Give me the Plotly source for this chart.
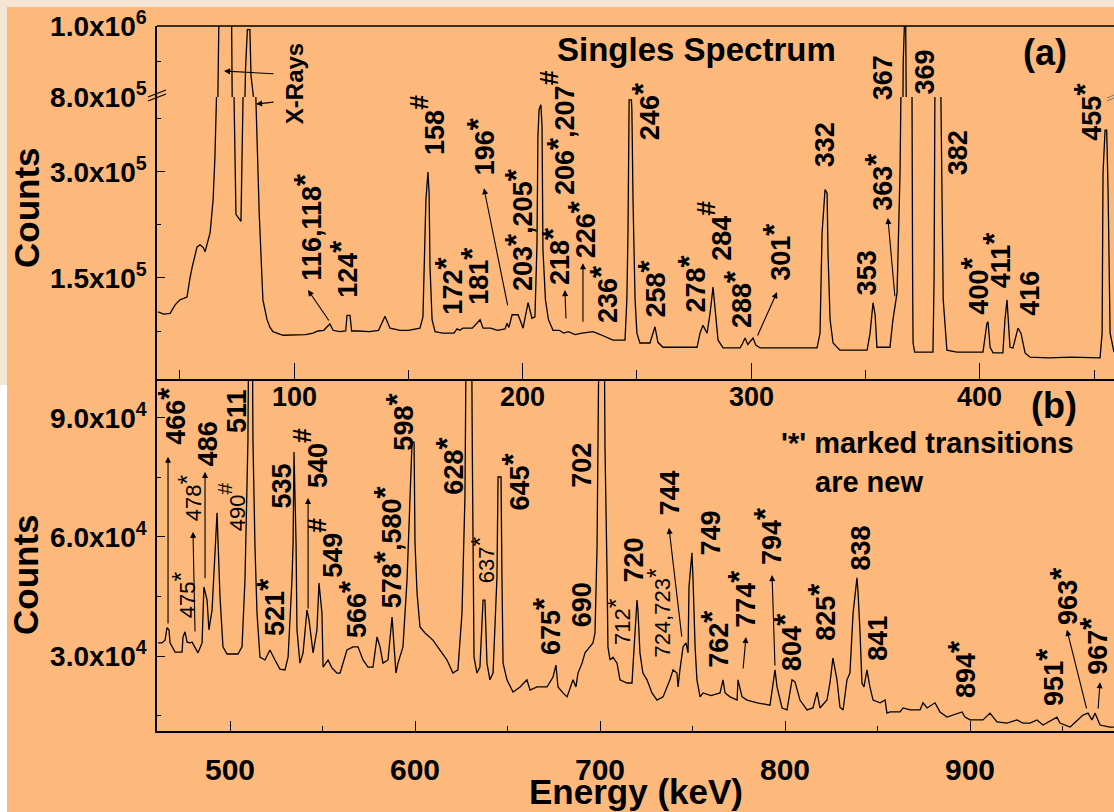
import re
import plotly.graph_objects as go

W, H = 1114, 812
BG = "#FDB97C"
FONT = "Liberation Sans, Arial, Helvetica, sans-serif"

# ---------------- data : panel (a) singles spectrum 40-460 keV ----------------
energy_a = [40.5, 43.0, 45.8, 48.0, 50.1, 53.2, 54.5, 55.5, 57.6, 58.9, 60.3, 61.1, 63.3, 64.6, 65.4, 66.0,
            66.8, 67.5, 72.5, 73.3, 74.6, 76.8, 77.6, 78.8, 79.6, 80.7, 81.2, 82.0, 84.0, 84.8, 86.4, 88.2,
            89.5, 90.8, 95.2, 100, 105, 108.3, 110.5, 113, 115.7, 117.1, 120, 122.6, 123.2, 124.5, 125.2,
            128, 133, 137, 139.8, 142, 146.4, 150, 155.1, 156.4, 157.7, 158.6, 159.1, 159.5, 160.4, 161.7,
            165, 170, 171.3, 172.5, 173.9, 178, 181.4, 182.7, 186, 189, 192.3, 193.2, 194.0, 195.4, 198.0,
            199.2, 200.2, 202.4, 203.5, 204.1, 205.4, 206.3, 206.7, 207.2, 208.0, 208.5, 208.9, 210.0,
            211.3, 213.3, 216, 218, 220, 223, 226, 230.8, 234, 239.5, 244.8, 245.6, 246.1, 246.6, 247.6,
            247.8, 248.3, 249.2, 250.0, 251.3, 255.7, 257.9, 259.2, 261.4, 270, 276.3, 277.6, 278.9, 280.7,
            282.0, 283.3, 284.6, 285.5, 287.7, 295.1, 296.0, 297.3, 298.5, 300.8, 302.0, 303.9, 310, 320,
            328.8, 330.1, 331.0, 332.3, 333.2, 333.6, 334.5, 335.8, 338.8, 345, 350.7, 352.0, 353.3, 354.2,
            355.0, 357.7, 360.7, 362.0, 363.8, 365.1, 366.0, 366.5, 367.0, 367.6, 367.9, 369.0, 370.3,
            370.6, 370.8, 371.5, 379.5, 380.0, 380.4, 381.0, 382.6, 383.0, 383.5, 384.0, 385.6, 390, 395,
            401.4, 403.1, 403.6, 404.5, 405.8, 410.1, 411.0, 411.9, 412.3, 413.2, 414.5, 416.7, 418.0,
            419.8, 422.0, 430, 440, 450, 452.6, 453.5, 453.9, 454.8, 455.5, 456.1, 457.0, 458.7]
counts_a = [102000, 99000, 100000, 112000, 119000, 123000, 150000, 166000, 194000, 197000, 193000, 187000,
            214000, 260000, 320000, 450000, 860000, 1200000, 1200000, 500000, 240000, 230000, 500000,
            880000, 990000, 990000, 860000, 550000, 300000, 240000, 119000, 91000, 80000, 74000, 69000,
            70000, 70000, 72000, 75000, 76000, 85000, 76000, 74000, 75000, 97000, 97000, 75000, 75000,
            74000, 76000, 96000, 79000, 76000, 76000, 79000, 95000, 260000, 300000, 270000, 166000, 91000,
            74000, 72000, 72000, 78000, 76000, 79000, 79000, 91000, 79000, 79000, 76000, 78000, 86000,
            80000, 98000, 98000, 88000, 79000, 115000, 100000, 93000, 95000, 200000, 350000, 388000,
            395000, 364000, 190000, 119000, 91000, 76000, 76000, 72000, 74000, 70000, 72000, 74000, 70000,
            62000, 62000, 119000, 214000, 402000, 402000, 388000, 260000, 119000, 72000, 58000, 58000,
            81000, 59000, 52000, 52000, 52000, 72000, 83000, 72000, 100000, 137000, 93000, 62000, 51000,
            51000, 56000, 65000, 56000, 65000, 55000, 51000, 51000, 51000, 51000, 72000, 214000, 275000,
            270000, 185000, 91000, 58000, 48000, 48000, 48000, 72000, 115000, 98000, 52000, 52000, 52000,
            91000, 129000, 299000, 450000, 900000, 1000000, 1000000, 700000, 700000, 450000, 150000,
            58000, 45000, 45000, 150000, 450000, 650000, 650000, 400000, 260000, 119000, 48000, 45000,
            45000, 45000, 86000, 88000, 52000, 44000, 44000, 91000, 119000, 98000, 52000, 51000, 79000,
            72000, 44000, 38000, 37000, 38000, 37000, 37000, 72000, 299000, 359000, 359000, 275000, 72000,
            45000]

# ---------------- data : panel (b) 460-980 keV ----------------
energy_b = [461.1, 463.2, 464.9, 465.9, 467.0, 467.6, 470.3, 474.1, 474.6, 475.7, 476.8, 478.4, 479.5,
            481.1, 482.7, 484.9, 485.9, 487.6, 488.6, 490.3, 491.9, 493.0, 493.5, 494.6, 496.2, 498.4,
            504.3, 506.5, 508.1, 509.2, 509.7, 510.2, 512.0, 512.4, 513.5, 514.6, 516.2, 518.9, 521.6,
            524.3, 527.0, 529.7, 531.4, 533.5, 534.1, 534.6, 535.7, 536.2, 537.8, 539.5, 541.6, 542.7,
            544.3, 544.9, 547.0, 548.1, 549.7, 550.3, 553.0, 555.1, 557.8, 559.5, 563.2, 566.5, 569.2,
            571.9, 574.6, 577.3, 579.5, 581.1, 582.7, 585.4, 587.6, 588.1, 589.7, 590.8, 593.5, 595.7,
            597.3, 598.4, 599.5, 600.0, 601.1, 602.7, 605.4, 609.7, 613.5, 617.3, 620.5, 623.2, 625.4,
            625.9, 627.0, 627.8, 630.5, 631.0, 631.4, 631.9, 633.5, 635.1, 636.8, 637.8, 638.9, 640.5,
            642.2, 644.3, 644.9, 646.5, 647.0, 647.6, 649.7, 653.0, 656.8, 660.5, 662.2, 665.9, 671.4,
            674.6, 676.2, 677.3, 680.0, 682.2, 685.4, 687.0, 688.1, 690.3, 691.9, 694.6, 696.2, 697.3,
            698.4, 698.9, 699.6, 702.2, 702.7, 703.8, 704.3, 705.4, 707.0, 709.2, 710.8, 714.6, 717.3,
            717.8, 720.0, 720.5, 721.6, 722.7, 723.2, 725.4, 728.1, 730.8, 734.1, 737.8, 739.5, 741.6,
            742.2, 743.2, 744.9, 746.5, 747.6, 748.1, 749.7, 750.3, 751.4, 752.4, 754.1, 755.7, 760,
            764.9, 766.5, 767.6, 770.3, 774.1, 774.6, 776.8, 779.5, 785, 791.9, 794.6, 795.7, 798.4,
            801.1, 803.8, 805.4, 808.1, 811.9, 815.1, 817.3, 818.9, 822.7, 824.3, 825.9, 828.1, 829.7,
            831.4, 833.5, 835.1, 836.8, 838.9, 839.5, 840.5, 841.6, 842.7, 844.3, 845.9, 847.6, 851.4,
            854.1, 855.1, 856.8, 862.2, 863.8, 867.6, 873.0, 874.6, 876.8, 881.1, 883.8, 887.6, 890.8,
            895.7, 897.3, 900.0, 907.0, 910.8, 914.6, 920.0, 925.4, 928.6, 932.4, 936.2, 939.5, 947.0,
            948.6, 954.1, 961.1, 963.8, 965.9, 967.6, 970.3, 975.7, 977.8]
counts_b = [33300, 33300, 34000, 37100, 36600, 33300, 31000, 31000, 34800, 36100, 33500, 33300, 33500,
            32000, 30800, 33300, 47400, 44100, 36600, 41600, 58500, 66100, 59200, 44900, 32300, 30500,
            30500, 32300, 49200, 70600, 84500, 120000, 120000, 84500, 57500, 40800, 29700, 29000, 31500,
            29000, 26700, 26500, 29700, 49200, 58500, 81400, 58500, 36600, 28200, 30800, 41600, 39100,
            34000, 30800, 36600, 48400, 40800, 27200, 29000, 27000, 25700, 25700, 31500, 32300, 32300,
            29000, 27200, 27200, 34800, 32300, 28200, 29000, 39800, 36100, 25700, 28200, 32300, 49200,
            67600, 83900, 83900, 58500, 45900, 37300, 35800, 34000, 31500, 29000, 25700, 26500, 40800,
            49200, 70100, 120000, 120000, 80200, 50000, 29700, 25700, 27200, 44100, 44100, 28200, 24000,
            25700, 49900, 75100, 75100, 49900, 28200, 24000, 20900, 22200, 24000, 21400, 22200, 22200,
            24700, 27700, 22200, 20700, 19700, 24000, 22200, 25700, 28200, 30800, 32300, 33300, 35800,
            57500, 82700, 120000, 120000, 82700, 50900, 32300, 29000, 29700, 28200, 24000, 23200, 23200,
            27200, 44100, 41600, 30800, 27200, 25700, 24000, 20700, 18900, 19700, 24000, 26500, 25700,
            22200, 26500, 32300, 33300, 30800, 47400, 56000, 49200, 32300, 24000, 19700, 20700, 20000,
            20700, 24000, 20700, 19700, 18900, 24000, 19700, 18900, 18200, 17600, 26500, 22200, 16900,
            16400, 24000, 23500, 18900, 16400, 16900, 20900, 16900, 18900, 23200, 29500, 24000, 17100,
            16400, 24000, 25700, 40800, 49700, 45900, 36600, 23200, 22200, 26500, 22200, 18900, 18200,
            18900, 15600, 15900, 15900, 16900, 16400, 16400, 18200, 16900, 18200, 15900, 14600, 15100,
            15900, 14600, 13900, 13900, 15600, 13400, 13100, 13900, 13100, 13100, 13900, 12600, 14600,
            13100, 12100, 15100, 15600, 13900, 15600, 12600, 12100, 12100]

# ---------------- axes ticks ----------------
xticks_a = [100, 200, 300, 400]
xminor_a = [50, 150, 250, 350, 450]
yticks_a_low = [150000, 300000]
ylabels_a_low = ["1.5x10<sup>5</sup>", "3.0x10<sup>5</sup>"]
yminor_a_low = [75000, 225000, 375000]
yticks_a_up = [800000, 1000000]
ylabels_a_up = ["8.0x10<sup>5</sup>", "1.0x10<sup>6</sup>"]
yminor_a_up = [900000]
xticks_b = [500, 600, 700, 800, 900]
xminor_b = [550, 650, 750, 850, 950]
yticks_b = [30000, 60000, 90000]
ylabels_b = ["3.0x10<sup>4</sup>", "6.0x10<sup>4</sup>", "9.0x10<sup>4</sup>"]
yminor_b = [15000, 45000, 75000]

# ---------------- peak labels (text, energy, counts at bottom of label) ----------------
label_text_a = ["116,118*", "124*", "158#", "172*", "181*", "196*", "203*,205*", "206*,207#", "218*", "226*",
                "236*", "246*", "258*", "278*", "284#", "288*", "301*", "332", "353", "363*", "367", "369",
                "382", "400*", "411*", "416", "455*"]
label_e_a = [106.0, 121.8, 158.1, 167.7, 179.1, 181.7, 198.3, 215.0, 214.1, 225.5, 235.5, 253.5, 256.5,
             274.0, 283.6, 293.7, 311.2, 332.3, 350.7, 355.8, 357.7, 375.6, 390.5, 397.8, 407.4, 422.0,
             447.2]
label_c_a = [143000, 119000, 321000, 95000, 109000, 292000, 129000, 265000, 137000, 175000, 83000, 342000,
             91000, 98000, 171000, 76000, 143000, 303000, 122000, 242000, 398000, 406000, 292000, 95000,
             133000, 93000, 341000]

label_text_b = ["466*", "486", "511", "521*", "535", "540#", "549#", "566*", "578*,580*", "598*", "628*",
                "645*", "675*", "690", "702", "720", "744", "749", "762*", "774*", "794*", "804*", "825*",
                "838", "841", "894*", "951*", "963*", "967*"]
label_e_b = [468.6, 488.1, 503.8, 521.5, 528.1, 543.2, 551.3, 565.9, 585.3, 591.8, 618.8, 654.5, 670.7,
             690.3, 690.3, 718.4, 737.8, 760.0, 762.1, 776.7, 790.2, 801.0, 819.9, 841.1, 850.3, 895.1,
             943.2, 950.2, 966.4]
label_c_b = [82700, 77400, 85700, 34500, 66800, 71800, 49200, 34000, 41600, 81200, 70100, 66100, 29700,
             36600, 71800, 47900, 65000, 54700, 26500, 36600, 52400, 25700, 33300, 50900, 28200, 18900,
             16900, 37300, 24700]

small_text_b = ["475*", "478*", "490#", "637*", "712*", "724,723*"]
small_e_b = [475.0, 478.2, 500.9, 636.6, 710.1, 731.7]
small_c_b = [39100, 63500, 61000, 47900, 32300, 29000]

# arrows (tail -> head)
arrow_a_tail_e = [115.7, 193.6, 219.0, 226.4, 302.5, 362.9]
arrow_a_tail_c = [87700, 109000, 90600, 86000, 66500, 122000]
arrow_a_head_e = [106.1, 183.1, 218.5, 226.4, 311.3, 359.8]
arrow_a_head_c = [133000, 277000, 133000, 171000, 130000, 235000]

arrow_b_tail_e = [466.5, 481.1, 486.5, 542.2, 744.3, 777.3, 794.6, 963.2, 969.2]
arrow_b_tail_c = [37800, 35800, 49200, 41600, 34500, 26500, 27200, 16400, 16400]
arrow_b_head_e = [466.5, 480.0, 486.5, 542.2, 737.3, 778.9, 793.0, 952.4, 970.3]
arrow_b_head_c = [80200, 61300, 76400, 69800, 62300, 34800, 50400, 36600, 23400]

xray_tail_e, xray_tail_c, xray_head_e, xray_head_c = 91.7, 865000, 69.4, 873000
xray2_tail_e, xray2_tail_c, xray2_head_e, xray2_head_c = 91.7, 399000, 83.4, 396000

# ---------------- layout constants (pixels) ----------------
PL = 157
A_TOP, A_BRK, A_BOT, B_BOT = 26, 97, 379, 731


def fy(py):
    return 1 - py / H


def fx(px):
    return px / W


def marks(t, star_px, hash_px):
    t = t.replace("#", '<span style="font-size:%dpx"><sup>#</sup></span>' % hash_px)
    return re.sub(r"\*", '<span style="font-size:12px"><sup><span style="font-size:%dpx">*</span></sup></span>'
                  % star_px, t)


fig = go.Figure()
line = dict(color="black", width=1.3)
fig.add_trace(go.Scatter(x=energy_a, y=counts_a, mode="lines", line=line, xaxis="x", yaxis="y",
                         showlegend=False, hoverinfo="skip"))
fig.add_trace(go.Scatter(x=energy_a, y=counts_a, mode="lines", line=line, xaxis="x", yaxis="y2",
                         showlegend=False, hoverinfo="skip"))
fig.add_trace(go.Scatter(x=energy_b, y=counts_b, mode="lines", line=line, xaxis="x2", yaxis="y3",
                         showlegend=False, hoverinfo="skip"))

tickfont = dict(family=FONT, size=28, color="black", weight="bold")
common = dict(showgrid=False, zeroline=False, showline=True, linecolor="black", linewidth=1.5,
              ticks="inside", tickcolor="black", tickwidth=1.3, automargin=False)

fig.update_layout(
    width=W, height=H, margin=dict(l=0, r=0, t=0, b=0, pad=0, autoexpand=False),
    paper_bgcolor=BG, plot_bgcolor=BG,
    xaxis=dict(domain=[fx(PL), 1], range=[40.07, 458.7], anchor="y", tickmode="array",
               tickvals=xticks_a, ticklen=16, showticklabels=False,
               minor=dict(tickmode="array", tickvals=xminor_a, ticklen=9, ticks="inside",
                          tickcolor="black", tickwidth=1.3), **common),
    yaxis=dict(domain=[fy(A_BOT), fy(A_BRK)], range=[7100, 406000], anchor="x", tickmode="array",
               tickvals=yticks_a_low, ticktext=ylabels_a_low, ticklen=8, tickfont=tickfont,
               ticklabelstandoff=3,
               minor=dict(tickmode="array", tickvals=yminor_a_low, ticklen=4, ticks="inside",
                          tickcolor="black", tickwidth=1.3), **common),
    yaxis2=dict(domain=[fy(A_BRK), fy(A_TOP)], range=[799500, 1000500], anchor="x", tickmode="array",
                tickvals=yticks_a_up, ticktext=ylabels_a_up, ticklen=8, tickfont=tickfont,
                ticklabelstandoff=3,
                minor=dict(tickmode="array", tickvals=yminor_a_up, ticklen=4, ticks="inside",
                           tickcolor="black", tickwidth=1.3), **common),
    xaxis2=dict(domain=[fx(PL), 1], range=[460.54, 977.84], anchor="y3", tickmode="array",
                tickvals=xticks_b, ticklen=10, showticklabels=False,
                minor=dict(tickmode="array", tickvals=xminor_b, ticklen=5, ticks="inside",
                           tickcolor="black", tickwidth=1.3), **common),
    yaxis3=dict(domain=[fy(B_BOT), fy(A_BOT)], range=[11100, 99800], anchor="x2", tickmode="array",
                tickvals=yticks_b, ticktext=ylabels_b, ticklen=8, tickfont=tickfont, ticklabelstandoff=3,
                minor=dict(tickmode="array", tickvals=yminor_b, ticklen=4, ticks="inside",
                           tickcolor="black", tickwidth=1.3), **common),
)

ann = []
big = dict(family=FONT, size=27, color="black", weight="bold")
small = dict(family=FONT, size=22, color="black")

# energy-axis tick labels placed under each axis line at the tick values
for v in xticks_a:
    ann.append(dict(text=str(v), x=v, y=fy(397), xref="x", yref="paper", xanchor="center",
                    yanchor="middle", showarrow=False, font=dict(big, size=27)))
for v in xticks_b:
    ann.append(dict(text=str(v), x=v, y=fy(769), xref="x2", yref="paper", xanchor="center",
                    yanchor="middle", showarrow=False, font=dict(big, size=30)))

for t, e, c in zip(label_text_a, label_e_a, label_c_a):
    ann.append(dict(text=marks(t, 31, 38), x=e, y=c, xref="x", yref="y", textangle=-90, xanchor="center",
                    yanchor="bottom", showarrow=False, font=big))
for t, e, c in zip(label_text_b, label_e_b, label_c_b):
    ann.append(dict(text=marks(t, 31, 38), x=e, y=c, xref="x2", yref="y3", textangle=-90, xanchor="center",
                    yanchor="bottom", showarrow=False, font=big))
for t, e, c in zip(small_text_b, small_e_b, small_c_b):
    ann.append(dict(text=marks(t, 25, 30), x=e, y=c, xref="x2", yref="y3", textangle=-90, xanchor="center",
                    yanchor="bottom", showarrow=False, font=small))

arrow_style = dict(text="", showarrow=True, arrowhead=2, arrowsize=1.1, arrowwidth=1.1,
                   arrowcolor="black", standoff=0, startstandoff=0)
for te, tc, he, hc in zip(arrow_a_tail_e, arrow_a_tail_c, arrow_a_head_e, arrow_a_head_c):
    ann.append(dict(x=he, y=hc, ax=te, ay=tc, xref="x", yref="y", axref="x", ayref="y", **arrow_style))
for te, tc, he, hc in zip(arrow_b_tail_e, arrow_b_tail_c, arrow_b_head_e, arrow_b_head_c):
    ann.append(dict(x=he, y=hc, ax=te, ay=tc, xref="x2", yref="y3", axref="x2", ayref="y3", **arrow_style))
ann.append(dict(x=xray_head_e, y=xray_head_c, ax=xray_tail_e, ay=xray_tail_c, xref="x", yref="y2",
                axref="x", ayref="y2", **arrow_style))
ann.append(dict(x=xray2_head_e, y=xray2_head_c, ax=xray2_tail_e, ay=xray2_tail_c, xref="x", yref="y",
                axref="x", ayref="y", **arrow_style))
ann.append(dict(text="X-Rays", x=100, y=364000, xref="x", yref="y", textangle=-90, xanchor="center",
                yanchor="bottom", showarrow=False, font=dict(big, size=24)))

# titles / notes (paper coordinates from pixel positions)
def paper_text(text, px, py, size, angle=0, xanchor="center"):
    return dict(text=text, x=fx(px), y=fy(py), xref="paper", yref="paper", xanchor=xanchor,
                yanchor="middle", textangle=angle, showarrow=False,
                font=dict(family=FONT, size=size, color="black", weight="bold"))

ann.append(paper_text("Counts", 26, 208, 35, -90))
ann.append(paper_text("Counts", 25, 575, 35, -90))
ann.append(paper_text("Energy (keV)", 636, 791, 35))
ann.append(paper_text("Singles Spectrum", 696, 50, 33))
ann.append(paper_text("(a)", 1045, 52, 36))
ann.append(paper_text("(b)", 1054, 405, 36))
ann.append(paper_text("'*' marked transitions", 779, 443, 29, xanchor="left"))
ann.append(paper_text("are new", 813, 482, 29, xanchor="left"))
fig.update_layout(annotations=ann)

shapes = [
    # top border of panel (a)
    dict(type="line", xref="paper", yref="paper", x0=fx(PL), x1=1, y0=fy(A_TOP), y1=fy(A_TOP),
         line=dict(color="black", width=1.5)),
    # axis break marks
    dict(type="line", xref="paper", yref="paper", x0=fx(148), y0=fy(101), x1=fx(166), y1=fy(94),
         line=dict(color="black", width=1.3)),
    dict(type="line", xref="paper", yref="paper", x0=fx(148), y0=fy(97), x1=fx(166), y1=fy(90),
         line=dict(color="black", width=1.3)),
    dict(type="line", xref="paper", yref="paper", x0=fx(1107), y0=fy(101), x1=fx(1114), y1=fy(98),
         line=dict(color="#777", width=1)),
    dict(type="line", xref="paper", yref="paper", x0=fx(1107), y0=fy(98), x1=fx(1114), y1=fy(95),
         line=dict(color="#777", width=1)),
    # scan borders
    dict(type="rect", xref="paper", yref="paper", x0=0, x1=1, y0=fy(7), y1=1, line=dict(width=0),
         fillcolor="#F4E4D2", layer="below"),
    dict(type="rect", xref="paper", yref="paper", x0=0, x1=fx(7), y0=fy(385), y1=1, line=dict(width=0),
         fillcolor="#F4E4D2", layer="below"),
    dict(type="rect", xref="paper", yref="paper", x0=0, x1=fx(7), y0=0, y1=fy(385), line=dict(width=0),
         fillcolor="#FFFFFF", layer="below"),
]
fig.update_layout(shapes=shapes)

fig.write_html("out.html")
